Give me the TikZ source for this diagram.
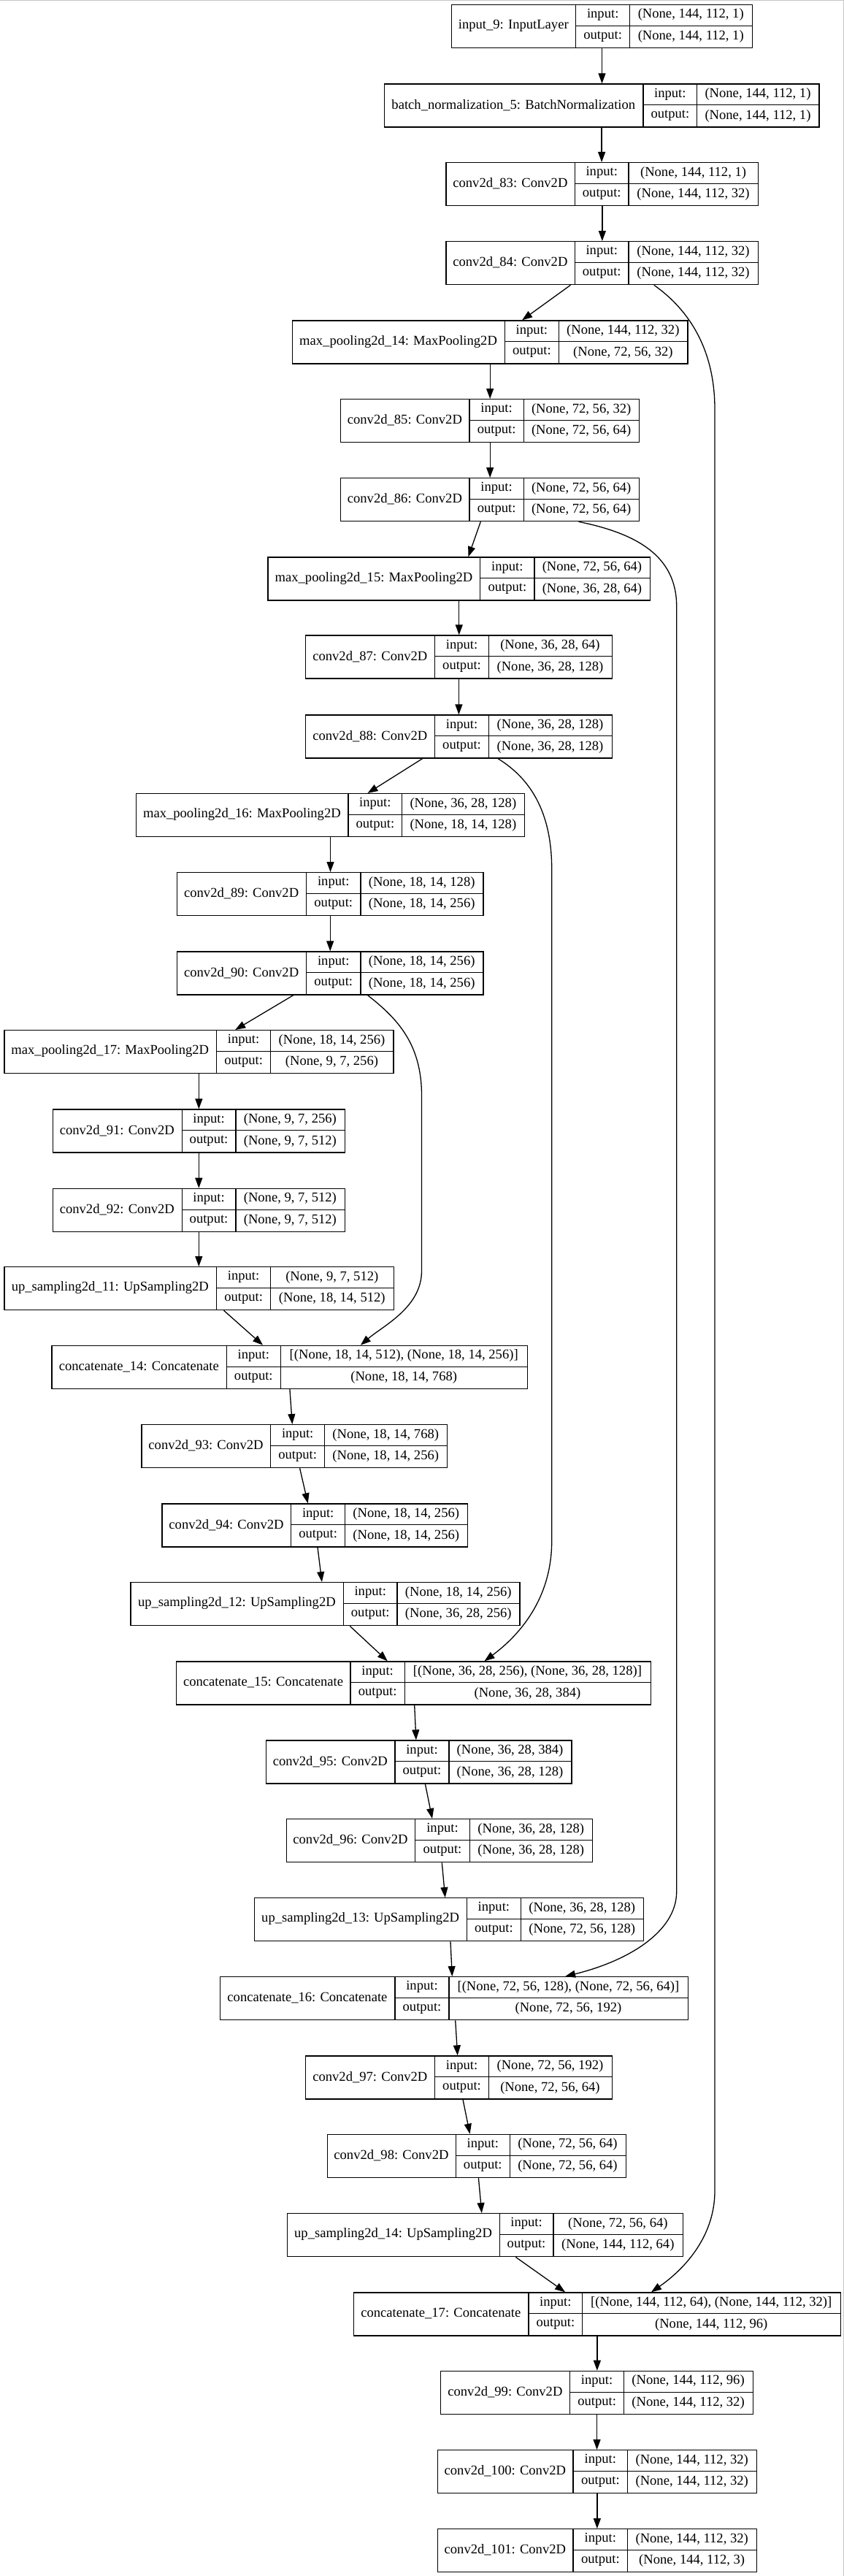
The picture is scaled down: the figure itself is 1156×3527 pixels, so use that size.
\documentclass[tikz,border=0pt]{standalone}
\usepackage{fontspec}
\setmainfont{Liberation Serif}
\usetikzlibrary{arrows.meta,calc}
\tikzset{
  recbox/.style={draw, line width=1.3pt, rectangle, inner sep=0pt, minimum height=59pt},
  recline/.style={line width=1.3pt},
  txt/.style={inner sep=0pt, font=\fontsize{18.6}{22}\selectfont},
  conn/.style={line width=1.3pt, -{Triangle[length=14pt,width=10pt]}},
  frameline/.style={gray!45, line width=1.2pt}
}
% name, L, D1, D2, R, T, title, input, output
\newcommand{\recnode}[9]{%
  \node[recbox, minimum width={(#5-#2)*1pt}, anchor=north west] (#1) at (#2,#6) {};
  \draw[recline] (#3,#6) -- (#3,{#6+59});
  \draw[recline] (#4,#6) -- (#4,{#6+59});
  \draw[recline] (#3,{#6+29.5}) -- (#5,{#6+29.5});
  \node[txt] (#1-t) at ({(#2+#3)/2},{#6+29.5}) {#7};
  \node[txt] (#1-il) at ({(#3+#4)/2},{#6+14.75}) {input:};
  \node[txt] (#1-ol) at ({(#3+#4)/2},{#6+44.25}) {output:};
  \node[txt] (#1-iv) at ({(#4+#5)/2},{#6+14.75}) {#8};
  \node[txt] (#1-ov) at ({(#4+#5)/2},{#6+44.25}) {#9};
}
\begin{document}
\begin{tikzpicture}[x=1pt,y=-1pt]
\useasboundingbox (0,0) rectangle (1156,3527);
\draw[frameline] (0,0.6) -- (1155.4,0.6) -- (1155.4,3527);

\recnode{in9}{617.8}{788.8}{862.6}{1029.9}{5.7}{input\_9: InputLayer}{(None, 144, 112, 1)}{(None, 144, 112, 1)}
\recnode{bn5}{525.6}{881.0}{954.7}{1121.3}{114.3}{batch\_normalization\_5: BatchNormalization}{(None, 144, 112, 1)}{(None, 144, 112, 1)}
\recnode{c83}{610.4}{787.4}{861.1}{1038}{222}{conv2d\_83: Conv2D}{(None, 144, 112, 1)}{(None, 144, 112, 32)}
\recnode{c84}{610.4}{787.4}{861.1}{1038}{330}{conv2d\_84: Conv2D}{(None, 144, 112, 32)}{(None, 144, 112, 32)}
\recnode{mp14}{399.6}{691.5}{765.3}{941.4}{438.3}{max\_pooling2d\_14: MaxPooling2D}{(None, 144, 112, 32)}{(None, 72, 56, 32)}
\recnode{c85}{465.9}{642.9}{717.3}{875.1}{546}{conv2d\_85: Conv2D}{(None, 72, 56, 32)}{(None, 72, 56, 64)}
\recnode{c86}{465.9}{642.9}{717.3}{875.1}{654}{conv2d\_86: Conv2D}{(None, 72, 56, 64)}{(None, 72, 56, 64)}
\recnode{mp15}{366.4}{657.6}{732.1}{889.8}{762.3}{max\_pooling2d\_15: MaxPooling2D}{(None, 72, 56, 64)}{(None, 36, 28, 64)}
\recnode{c87}{418}{595.7}{669.4}{837.5}{869.3}{conv2d\_87: Conv2D}{(None, 36, 28, 64)}{(None, 36, 28, 128)}
\recnode{c88}{418}{595.7}{669.4}{837.5}{978.3}{conv2d\_88: Conv2D}{(None, 36, 28, 128)}{(None, 36, 28, 128)}
\recnode{mp16}{185.8}{477}{550.7}{718}{1086}{max\_pooling2d\_16: MaxPooling2D}{(None, 36, 28, 128)}{(None, 18, 14, 128)}
\recnode{c89}{241.8}{419.5}{494}{661.3}{1194}{conv2d\_89: Conv2D}{(None, 18, 14, 128)}{(None, 18, 14, 256)}
\recnode{c90}{241.8}{419.5}{494}{661.3}{1302.3}{conv2d\_90: Conv2D}{(None, 18, 14, 256)}{(None, 18, 14, 256)}
\recnode{mp17}{5.2}{296.4}{370.8}{538.2}{1410}{max\_pooling2d\_17: MaxPooling2D}{(None, 18, 14, 256)}{(None, 9, 7, 256)}
\recnode{c91}{71.5}{249.2}{322.9}{471.8}{1518.3}{conv2d\_91: Conv2D}{(None, 9, 7, 256)}{(None, 9, 7, 512)}
\recnode{c92}{71.5}{249.2}{322.9}{471.8}{1626.7}{conv2d\_92: Conv2D}{(None, 9, 7, 512)}{(None, 9, 7, 512)}
\recnode{up11}{5.2}{296.4}{370.8}{538.8}{1734}{up\_sampling2d\_11: UpSampling2D}{(None, 9, 7, 512)}{(None, 18, 14, 512)}
\recnode{cat14}{70.3}{310.2}{384.4}{722}{1841.7}{concatenate\_14: Concatenate}{[(None, 18, 14, 512), (None, 18, 14, 256)]}{(None, 18, 14, 768)}
\recnode{c93}{193.2}{370.8}{444.6}{611.9}{1950}{conv2d\_93: Conv2D}{(None, 18, 14, 768)}{(None, 18, 14, 256)}
\recnode{c94}{221.2}{398.8}{472.6}{639.9}{2058.3}{conv2d\_94: Conv2D}{(None, 18, 14, 256)}{(None, 18, 14, 256)}
\recnode{up12}{178.4}{470.4}{544.1}{711.4}{2166}{up\_sampling2d\_12: UpSampling2D}{(None, 18, 14, 256)}{(None, 36, 28, 256)}
\recnode{cat15}{241.1}{479.9}{554.4}{890.5}{2274.3}{concatenate\_15: Concatenate}{[(None, 36, 28, 256), (None, 36, 28, 128)]}{(None, 36, 28, 384)}
\recnode{c95}{363.5}{541.1}{614.9}{782.2}{2382.3}{conv2d\_95: Conv2D}{(None, 36, 28, 384)}{(None, 36, 28, 128)}
\recnode{c96}{391.5}{568.4}{643.6}{811}{2490}{conv2d\_96: Conv2D}{(None, 36, 28, 128)}{(None, 36, 28, 128)}
\recnode{up13}{348}{639.2}{713.6}{881}{2598}{up\_sampling2d\_13: UpSampling2D}{(None, 36, 28, 128)}{(None, 72, 56, 128)}
\recnode{cat16}{300.8}{541.1}{614.9}{942}{2706}{concatenate\_16: Concatenate}{[(None, 72, 56, 128), (None, 72, 56, 64)]}{(None, 72, 56, 192)}
\recnode{c97}{418}{595.7}{669.4}{837.5}{2814.3}{conv2d\_97: Conv2D}{(None, 72, 56, 192)}{(None, 72, 56, 64)}
\recnode{c98}{447.5}{624.4}{698.2}{856.7}{2921.7}{conv2d\_98: Conv2D}{(None, 72, 56, 64)}{(None, 72, 56, 64)}
\recnode{up14}{392.9}{684.2}{757.9}{934.8}{3030}{up\_sampling2d\_14: UpSampling2D}{(None, 72, 56, 64)}{(None, 144, 112, 64)}
\recnode{cat17}{483.6}{724}{797.7}{1150.8}{3138.3}{concatenate\_17: Concatenate}{[(None, 144, 112, 64), (None, 144, 112, 32)]}{(None, 144, 112, 96)}
\recnode{c99}{603.1}{780.7}{854.5}{1030.7}{3245.7}{conv2d\_99: Conv2D}{(None, 144, 112, 96)}{(None, 144, 112, 32)}
\recnode{c100}{598.6}{785.1}{859.6}{1035.8}{3354}{conv2d\_100: Conv2D}{(None, 144, 112, 32)}{(None, 144, 112, 32)}
\recnode{c101}{598.6}{785.1}{859.6}{1035.8}{3462}{conv2d\_101: Conv2D}{(None, 144, 112, 32)}{(None, 144, 112, 3)}

% vertical connectors
\foreach \a/\b in {in9/bn5, bn5/c83, c83/c84, mp14/c85, c85/c86, mp15/c87, c87/c88,
  mp16/c89, c89/c90, mp17/c91, c91/c92, c92/up11, cat17/c99, c99/c100, c100/c101}
  \draw[conn] (\a.south) -- (\a.south |- \b.north);

% slanted connectors
\draw[conn] ($(c84.south west)+(171.1,0)$) -- ($(mp14.north west)+(315.5,0)$);
\draw[conn] ($(c86.south west)+(192.4,0)$) -- ($(mp15.north west)+(275,0)$);
\draw[conn] ($(c88.south west)+(160.7,0)$) -- ($(mp16.north west)+(317.7,0)$);
\draw[conn] ($(c90.south west)+(160,0)$) -- ($(mp17.north west)+(317,0)$);
\draw[conn] ($(up11.south west)+(301.4,0)$) -- ($(cat14.north west)+(289.7,0)$);
\draw[conn] ($(cat14.south west)+(326.6,0)$) -- ($(c93.north west)+(207.1,0)$);
\draw[conn] ($(c93.south west)+(217.4,0)$) -- ($(c94.north west)+(200.5,0)$);
\draw[conn] ($(c94.south west)+(213.8,0)$) -- ($(up12.north west)+(262.5,0)$);
\draw[conn] ($(up12.south west)+(300.8,0)$) -- ($(cat15.north west)+(289.7,0)$);
\draw[conn] ($(cat15.south west)+(326.6,0)$) -- ($(c95.north west)+(206.4,0)$);
\draw[conn] ($(c95.south west)+(218.9,0)$) -- ($(c96.north west)+(200.5,0)$);
\draw[conn] ($(c96.south west)+(213.8,0)$) -- ($(up13.north west)+(261.7,0)$);
\draw[conn] ($(up13.south west)+(269,0)$) -- ($(cat16.north west)+(318.5,0)$);
\draw[conn] ($(cat16.south west)+(322.9,0)$) -- ($(c97.north west)+(208.7,0)$);
\draw[conn] ($(c97.south west)+(216,0)$) -- ($(c98.north west)+(196.1,0)$);
\draw[conn] ($(c98.south west)+(207.9,0)$) -- ($(up14.north west)+(266.9,0)$);
\draw[conn] ($(up14.south west)+(313.4,0)$) -- ($(cat17.north west)+(290.5,0)$);

% skip connections
\draw[conn] ($(c84.south west)+(285.3,0)$) .. controls (945,425) and (979,480) .. (979,560)
  -- (979,3000) .. controls (979,3060) and (940,3105) .. ($(cat17.north west)+(408.4,0)$);
\draw[conn] ($(c86.south west)+(326.6,0)$) .. controls (870,730) and (926.7,760) .. (926.7,830)
  -- (926.7,2590) .. controls (926.7,2645) and (860,2685) .. ($(cat16.north west)+(473.3,0)$);
\draw[conn] ($(c88.south west)+(263.9,0)$) .. controls (725,1065) and (755.7,1110) .. (755.7,1190)
  -- (755.7,2110) .. controls (755.7,2190) and (710,2240) .. ($(cat15.north west)+(422.4,0)$);
\draw[conn] ($(c90.south west)+(261.7,0)$) .. controls (545,1395) and (577.5,1430) .. (577.5,1500)
  -- (577.5,1740) .. controls (577.5,1790) and (525,1815) .. ($(cat14.north west)+(423.6,0)$);
\end{tikzpicture}
\end{document}
